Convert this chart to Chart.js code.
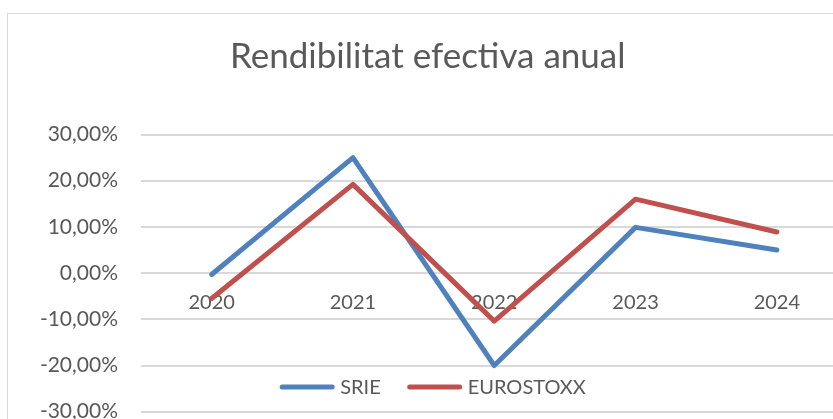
<!DOCTYPE html>
<html>
<head>
<meta charset="utf-8">
<script src="https://cdn.jsdelivr.net/npm/chart.js@4"></script>
<style>
  html, body { margin: 0; padding: 0; background: #fff; overflow: hidden; }
  #frame {
    position: absolute; left: 7px; top: 13px;
    width: 846px; height: 420px;
    border: 1px solid #d9d9d9;
  }
</style>
</head>
<body>
<div id="frame"><canvas id="chart" width="846" height="412"></canvas></div>
<script>
// data
const years = ["2020", "2021", "2022", "2023", "2024"];
const srie = [-0.3, 25.0, -20.0, 9.9, 5.0];
const eurostoxx = [-5.5, 19.2, -10.4, 16.0, 8.9];
const yMin = -30;
const yMax = 30;
const yStep = 10;

const textColor = "#595959";
const font = "Lato, 'Liberation Sans', sans-serif";

// legend sits inside the plot, like the Excel one
const bottomLegend = {
  id: "bottomLegend",
  afterDraw(chart) {
    const ctx = chart.ctx;
    const y = 373;
    const lineLen = 54, gap = 6, itemGap = 27;
    ctx.save();
    ctx.font = "20px " + font;
    ctx.textBaseline = "middle";
    const items = chart.data.datasets.map(ds => ({
      label: ds.label, color: ds.borderColor, w: lineLen + gap + ctx.measureText(ds.label).width
    }));
    let total = items.reduce((s, it) => s + it.w, 0) + itemGap * (items.length - 1);
    let x = chart.width / 2 + 2 - total / 2;
    items.forEach(it => {
      ctx.strokeStyle = it.color;
      ctx.lineWidth = 5;
      ctx.lineCap = "round";
      ctx.beginPath();
      ctx.moveTo(x + 2, y);
      ctx.lineTo(x + lineLen - 2, y);
      ctx.stroke();
      ctx.fillStyle = textColor;
      ctx.fillText(it.label, x + lineLen + gap, y + 1);
      x += it.w + itemGap;
    });
    ctx.restore();
  }
};

let ctx = document.getElementById("chart").getContext("2d");
let chart = new Chart(ctx, {
  type: "line",
  data: {
    labels: years,
    datasets: [
      {
        label: "SRIE",
        data: srie,
        borderColor: "#4F81BD",
        backgroundColor: "#4F81BD",
        borderWidth: 5,
        pointRadius: 0,
        borderCapStyle: "round",
        borderJoinStyle: "round",
        order: 1
      },
      {
        label: "EUROSTOXX",
        data: eurostoxx,
        borderColor: "#C0504D",
        backgroundColor: "#C0504D",
        borderWidth: 5,
        pointRadius: 0,
        borderCapStyle: "round",
        borderJoinStyle: "round",
        order: 0
      }
    ]
  },
  options: {
    responsive: false,
    animation: false,
    layout: { padding: { left: 0, right: 6.5, top: 0, bottom: 14.3 } },
    plugins: {
      legend: { display: false },
      tooltip: { enabled: false },
      title: {
        display: true,
        text: "Rendibilitat efectiva anual",
        color: textColor,
        font: { family: font, size: 35, weight: "normal", lineHeight: 1.2 },
        padding: { top: 22, bottom: 56.5 }
      }
    },
    scales: {
      x: {
        type: "category",
        offset: true,
        position: { y: 0 },
        grid: { display: false, drawTicks: false },
        border: { display: false },
        ticks: { color: textColor, font: { family: font, size: 20 }, padding: 17.5, maxRotation: 0 },
        afterFit: (scale) => { scale.height = 0; }
      },
      y: {
        min: yMin,
        max: yMax,
        grid: { color: "#d9d9d9", lineWidth: 2, drawTicks: false },
        border: { display: false },
        ticks: {
          stepSize: yStep,
          color: textColor,
          padding: 23,
          font: { family: font, size: 21 },
          callback: (v) => v.toFixed(2).replace(".", ",") + "%"
        },
        afterFit: (scale) => {
          scale.width = 133;
          scale.paddingTop = 0;
          scale.paddingBottom = 0;
        }
      }
    }
  },
  plugins: [bottomLegend]
});
</script>
</body>
</html>
